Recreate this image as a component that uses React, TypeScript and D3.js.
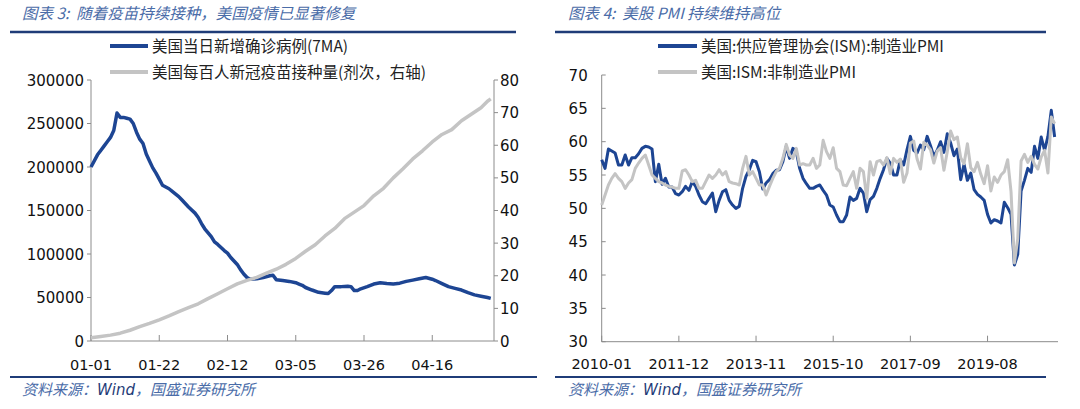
import React from "react";
import * as d3 from "d3";

// ---------- Left chart data ----------
const dayTickLabels = ["01-01", "01-22", "02-12", "03-05", "03-26", "04-16"];
const dayTickIdx = [0, 21, 42, 63, 84, 105];
const leftYTicks = [0, 50000, 100000, 150000, 200000, 250000, 300000];
const rightYTicks = [0, 10, 20, 30, 40, 50, 60, 70, 80];

// [day index since 01-01, US new cases 7MA]
const casesData: [number, number][] = [
  [0, 200000], [2, 214000], [3, 219000], [4, 224000], [5, 229000], [6, 234000], [7, 242000],
  [8, 262000], [9, 257000], [10, 257000], [11, 256000], [12, 255000], [13, 250000], [14, 240000],
  [15, 232000], [16, 227000], [17, 215000], [18, 207000], [19, 199000], [20, 193000], [21, 186000],
  [22, 179000], [23, 177000], [24, 175000], [25, 172000], [27, 166000], [28, 162000], [30, 154000],
  [32, 147000], [33, 142000], [34, 135000], [35, 129000], [37, 120000], [38, 114000], [39, 111000],
  [41, 104000], [42, 101000], [43, 96000], [45, 88000], [46, 82000], [47, 77000], [48, 73000],
  [49, 71000], [51, 71500], [53, 73000], [55, 75000], [56, 75500], [57, 70500], [59, 69500],
  [61, 68500], [63, 67000], [64, 65500], [65, 64000], [66, 61500], [68, 58600], [70, 56000],
  [72, 55000], [73, 54500], [74, 58000], [75, 62500], [77, 62500], [79, 63000], [80, 62500],
  [81, 58000], [82, 58000], [83, 60000], [85, 62500], [87, 65500], [89, 67000], [91, 66000],
  [93, 65500], [95, 66500], [97, 68500], [99, 70000], [101, 71500], [103, 73000], [105, 71000],
  [106, 69500], [108, 66000], [110, 62500], [112, 60500], [114, 58600], [116, 55500], [118, 53000],
  [120, 51500], [122, 50000], [123, 49000],
];

// [day index, vaccine doses per 100 people]
const vaccineData: [number, number][] = [
  [0, 1.0], [3, 1.4], [6, 1.8], [9, 2.4], [12, 3.3], [15, 4.4], [18, 5.4], [21, 6.5], [24, 7.7],
  [27, 9.0], [30, 10.2], [33, 11.4], [36, 13.0], [39, 14.5], [42, 16.0], [45, 17.5], [48, 18.6],
  [51, 19.5], [54, 20.8], [57, 22.0], [60, 23.5], [63, 25.3], [66, 27.5], [69, 29.5], [72, 32.2],
  [75, 34.5], [78, 37.5], [81, 39.5], [84, 41.5], [87, 44.5], [90, 46.8], [93, 50.0], [96, 52.8],
  [99, 55.8], [102, 58.3], [105, 61.0], [108, 63.3], [111, 64.8], [114, 67.5], [117, 69.5],
  [120, 71.5], [122, 73.5], [123, 74.2],
];

// ---------- Right chart data (monthly, 2010-01 .. 2021-04) ----------
const monthTickLabels = ["2010-01", "2011-12", "2013-11", "2015-10", "2017-09", "2019-08"];
const pmiYTicks = [30, 35, 40, 45, 50, 55, 60, 65, 70];

const mfgPMI = [
  57.3, 56.0, 58.9, 58.6, 58.3, 56.5, 56.5, 58.0, 56.5, 57.6, 57.6, 58.2,
  59.0, 59.3, 59.2, 58.9, 54.0, 56.6, 53.6, 54.5, 53.2, 53.2, 52.2, 52.0,
  52.5, 53.3, 52.7, 54.0, 53.3, 52.0, 51.0, 50.7, 51.5, 52.3, 49.5, 51.2,
  52.5, 52.8, 51.2, 50.5, 50.0, 50.3, 53.0, 54.8, 55.8, 57.2, 57.0, 55.5,
  52.9, 53.8, 54.3, 55.2, 55.7, 55.8, 57.0, 59.3, 57.5, 59.0, 58.5, 56.0,
  54.5, 53.7, 53.0, 53.0, 53.3, 53.5, 52.7, 52.0, 50.5, 50.2, 49.0, 48.0,
  48.0, 49.0, 51.7, 51.2, 51.5, 53.0, 52.3, 49.5, 51.3, 51.8, 53.0, 54.5,
  55.8, 57.5, 56.8, 55.0, 55.0, 57.3, 56.5, 58.8, 60.8, 58.7, 58.3, 59.5,
  58.8, 60.8, 59.4, 57.8, 58.7, 60.0, 58.4, 61.2, 59.8, 57.9, 58.9, 54.3,
  56.6, 54.2, 55.3, 52.8, 52.1, 51.7, 51.2, 49.1, 47.8, 48.3, 48.1, 47.8,
  50.9, 50.1, 49.1, 41.5, 43.1, 52.6, 54.2, 56.0, 55.4, 59.3, 57.5, 60.7,
  58.7, 60.8, 64.7, 60.7,
];

const nonMfgPMI = [
  50.5, 52.0, 53.5, 54.5, 55.2, 54.5, 54.0, 53.0, 53.8, 54.3, 56.0, 56.8,
  57.5, 58.0, 56.5, 55.0, 54.5, 54.0, 53.8, 53.5, 53.3, 53.2, 53.0, 53.0,
  55.6, 55.8, 55.0, 54.0, 54.2, 53.0, 53.0, 54.0, 55.0, 54.5, 55.0, 55.8,
  55.0, 55.5, 54.0, 53.8, 53.7, 53.5, 56.0, 57.8, 55.0, 55.5, 54.5, 53.5,
  53.5, 52.0, 53.3, 54.5, 55.5, 56.0, 57.5, 59.6, 58.0, 57.5, 59.0, 56.5,
  56.7, 56.5, 56.5, 57.5, 56.0, 56.5, 60.2, 58.5, 57.5, 59.1, 56.0, 55.5,
  53.5, 53.4, 54.5, 55.5, 53.0, 56.0, 55.5, 51.5, 57.0, 55.0, 57.0, 57.2,
  56.5, 57.6, 55.2, 57.5, 56.9, 57.4, 53.9, 55.3, 59.8, 60.1, 57.4, 55.9,
  59.9, 59.5, 58.8, 56.8, 58.6, 59.1, 55.7, 58.5, 61.6, 60.3, 60.7, 57.6,
  56.7, 59.7, 56.1, 55.5, 56.9, 55.1, 53.7, 56.4, 52.6, 54.7, 53.9, 55.0,
  55.5, 57.3, 52.5, 41.8, 45.4, 57.1, 58.1, 56.9, 57.8, 56.6, 55.9, 57.7,
  58.7, 55.3, 63.7, 62.7,
];

const BLUE = "#1d4593";
const GREY = "#c4c4c4";
const NAVY = "#1f3c78";
const TITLE_C = "#4a6ca8";
const AXIS_C = "#8c8c8c";
const NUM_FONT = "'DejaVu Sans', Verdana, sans-serif";
const CJK_FONT = "'Noto Sans CJK SC', 'DejaVu Sans', sans-serif";

export default function App() {
  // Left chart scales
  const lx = d3.scaleLinear().domain([0, 124]).range([91, 494]);
  const ly = d3.scaleLinear().domain([0, 300000]).range([341, 80]);
  const ly2 = d3.scaleLinear().domain([0, 80]).range([341, 80]);
  const casesLine = d3.line<[number, number]>().x((d) => lx(d[0])).y((d) => ly(d[1]));
  const vacLine = d3.line<[number, number]>().x((d) => lx(d[0])).y((d) => ly2(d[1]));

  // Right chart scales
  const rx = d3.scaleLinear().domain([0, 136]).range([601.7, 1058]);
  const ry = d3.scaleLinear().domain([30, 70]).range([341.7, 75]);
  const pmiLine = d3.line<number>().x((_, i) => rx(i)).y((d) => ry(d));
  const monthTickIdx = d3.range(0, 136, 23);

  const lx0 = lx.range()[0];
  const lx1 = lx.range()[1];
  const rx0 = rx.range()[0];
  const rx1 = rx.range()[1];

  return (
    <svg
      width={1080}
      height={409}
      style={{ position: "absolute", left: 0, top: 0, background: "#fff" }}
    >
      <rect width={1080} height={409} fill="#fff" />

      {/* ---------- Titles & rules ---------- */}
      <text x={22} y={19} fontSize={15.5} fontStyle="italic" fill={TITLE_C} fontFamily={CJK_FONT}>
        {"图表 3:\u00a0\u00a0随着疫苗持续接种，美国疫情已显著修复"}
      </text>
      <line x1={10} x2={516} y1={32} y2={32} stroke={NAVY} strokeWidth={2.5} />
      <text x={568} y={19} fontSize={15.5} fontStyle="italic" fill={TITLE_C} fontFamily={CJK_FONT}>
        {"图表 4:\u00a0\u00a0美股 PMI 持续维持高位"}
      </text>
      <line x1={555} x2={1046} y1={32} y2={32} stroke={NAVY} strokeWidth={2.5} />

      {/* ---------- Left chart ---------- */}
      <g>
        {/* legend */}
        <line x1={110} x2={148} y1={46} y2={46} stroke={BLUE} strokeWidth={4} />
        <text x={152} y={51.5} fontSize={15.5} fill="#222" fontFamily={CJK_FONT}>
          美国当日新增确诊病例(7MA)
        </text>
        <line x1={110} x2={148} y1={72} y2={72} stroke={GREY} strokeWidth={4} />
        <text x={152} y={77.5} fontSize={15.5} fill="#222" fontFamily={CJK_FONT}>
          美国每百人新冠疫苗接种量(剂次，右轴)
        </text>

        {/* axes */}
        <line x1={lx0} x2={lx0} y1={ly(300000)} y2={ly(0)} stroke={AXIS_C} strokeWidth={1} />
        <line x1={lx1} x2={lx1} y1={ly2(80)} y2={ly2(0)} stroke={AXIS_C} strokeWidth={1} />
        <line x1={lx0} x2={lx1} y1={ly(0)} y2={ly(0)} stroke={AXIS_C} strokeWidth={1} />
        {leftYTicks.map((t) => (
          <g key={"ly" + t}>
            <line x1={lx0 - 4} x2={lx0} y1={ly(t)} y2={ly(t)} stroke={AXIS_C} />
            <text x={lx0 - 7} y={ly(t) + 5.5} fontSize={15} textAnchor="end" fill="#111" fontFamily={NUM_FONT}>
              {t}
            </text>
          </g>
        ))}
        {rightYTicks.map((t) => (
          <g key={"ry" + t}>
            <line x1={lx1} x2={lx1 + 4} y1={ly2(t)} y2={ly2(t)} stroke={AXIS_C} />
            <text x={lx1 + 6} y={ly2(t) + 5.5} fontSize={15} textAnchor="start" fill="#111" fontFamily={NUM_FONT}>
              {t}
            </text>
          </g>
        ))}
        {dayTickIdx.map((d, i) => (
          <g key={"dx" + d}>
            <line x1={lx(d)} x2={lx(d)} y1={ly(0)} y2={ly(0) - 6} stroke={AXIS_C} />
            <text x={lx(d)} y={370} fontSize={14.5} textAnchor="middle" fill="#111" fontFamily={NUM_FONT}>
              {dayTickLabels[i]}
            </text>
          </g>
        ))}

        {/* series */}
        <path d={casesLine(casesData) || ""} fill="none" stroke={BLUE} strokeWidth={3.5} strokeLinejoin="round" />
        <path d={vacLine(vaccineData) || ""} fill="none" stroke={GREY} strokeWidth={3.5} strokeLinejoin="round" />
      </g>

      {/* ---------- Right chart ---------- */}
      <g>
        <line x1={658} x2={697} y1={46} y2={46} stroke={BLUE} strokeWidth={4} />
        <text x={701} y={51.5} fontSize={15.5} fill="#222" fontFamily={CJK_FONT}>
          美国:供应管理协会(ISM):制造业PMI
        </text>
        <line x1={658} x2={697} y1={72} y2={72} stroke={GREY} strokeWidth={4} />
        <text x={701} y={77.5} fontSize={15.5} fill="#222" fontFamily={CJK_FONT}>
          美国:ISM:非制造业PMI
        </text>

        <line x1={rx0} x2={rx0} y1={ry(70)} y2={ry(30)} stroke={AXIS_C} strokeWidth={1} />
        <line x1={rx0} x2={rx1} y1={ry(30)} y2={ry(30)} stroke={AXIS_C} strokeWidth={1} />
        {pmiYTicks.map((t) => (
          <g key={"py" + t}>
            <line x1={rx0} x2={rx0 + 4} y1={ry(t)} y2={ry(t)} stroke={AXIS_C} />
            <text x={rx0 - 14} y={ry(t) + 5.5} fontSize={15} textAnchor="end" fill="#111" fontFamily={NUM_FONT}>
              {t}
            </text>
          </g>
        ))}
        {monthTickIdx.map((m, i) => (
          <g key={"mx" + m}>
            <line x1={rx(m)} x2={rx(m)} y1={ry(30)} y2={ry(30) - 6} stroke={AXIS_C} />
            <text x={rx(m)} y={369} fontSize={14.5} textAnchor="middle" fill="#111" fontFamily={NUM_FONT}>
              {monthTickLabels[i]}
            </text>
          </g>
        ))}

        <path d={pmiLine(mfgPMI) || ""} fill="none" stroke={BLUE} strokeWidth={3} strokeLinejoin="round" />
        <path d={pmiLine(nonMfgPMI) || ""} fill="none" stroke={GREY} strokeWidth={3} strokeLinejoin="round" />
      </g>

      {/* ---------- Source lines ---------- */}
      <line x1={10} x2={537} y1={377} y2={377} stroke={NAVY} strokeWidth={2} />
      <line x1={555} x2={1046} y1={377} y2={377} stroke={NAVY} strokeWidth={2} />
      <text x={22} y={395} fontSize={15} fontStyle="italic" fill={TITLE_C} fontFamily={CJK_FONT}>
        资料来源：<tspan fontFamily={NUM_FONT} fill={NAVY}>Wind</tspan>，国盛证券研究所
      </text>
      <text x={568} y={395} fontSize={15} fontStyle="italic" fill={TITLE_C} fontFamily={CJK_FONT}>
        资料来源：<tspan fontFamily={NUM_FONT} fill={NAVY}>Wind</tspan>，国盛证券研究所
      </text>
    </svg>
  );
}
